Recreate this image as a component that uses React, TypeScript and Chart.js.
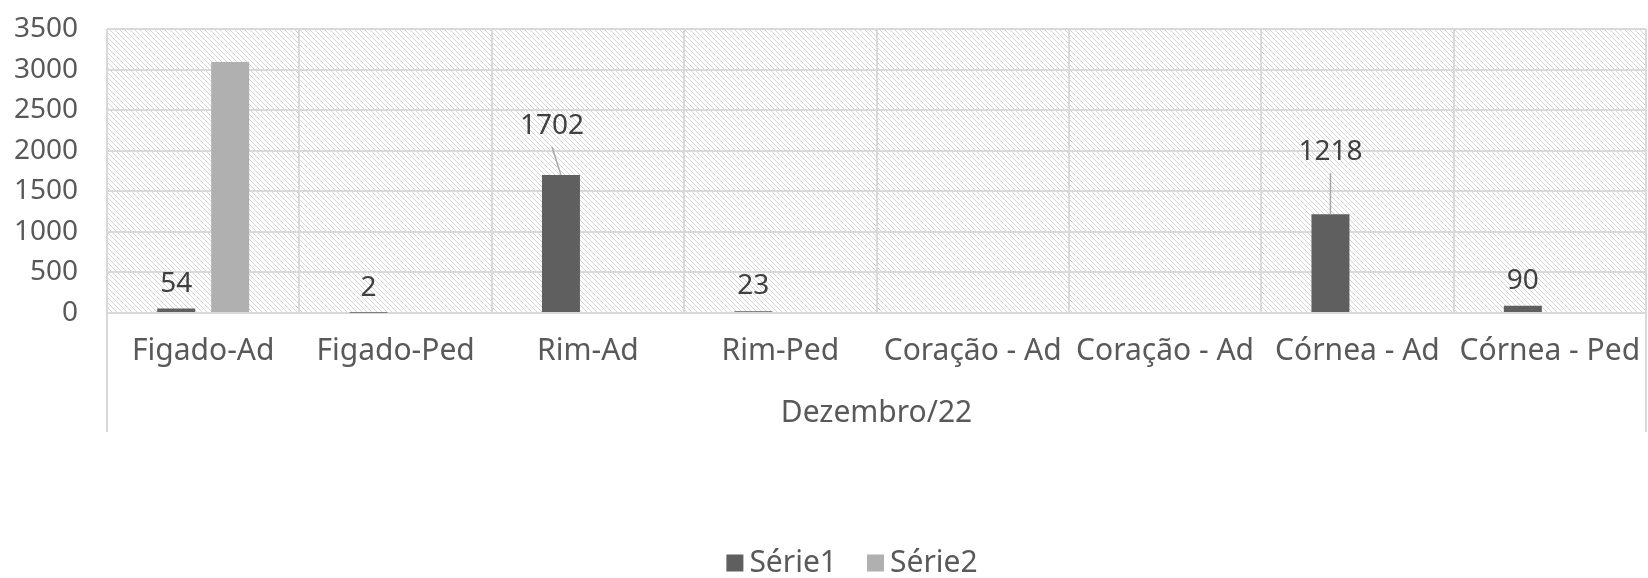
import React, { useEffect, useRef } from "react";
import { Chart, registerables } from "chart.js";

Chart.register(...registerables);

const categories = [
  "Figado-Ad",
  "Figado-Ped",
  "Rim-Ad",
  "Rim-Ped",
  "Coração - Ad",
  "Coração - Ad",
  "Córnea - Ad",
  "Córnea - Ped",
];
const serie1: (number | null)[] = [54, 2, 1702, 23, null, null, 1218, 90];
const serie2: (number | null)[] = [3093, null, null, null, null, null, null, null];
const seriesNames = ["Série1", "Série2"];
const groupLabel = "Dezembro/22";
const yMin = 0;
const yMax = 3500;
const yStep = 500;

const FONT = "'Noto Sans', sans-serif";
const TEXT = "#595959";
const COLORS = ["#5f5f5f", "#b0b0b0"];
const GRID = "#d9d9d9";

// manual label displacement (px) for labels moved with leader lines
const labelShift: Record<number, [number, number]> = { 2: [-9, -24], 6: [0, -37] };

const decor = {
  id: "decor",
  beforeDraw(chart: any) {
    const { ctx, chartArea: a } = chart;
    const tile = document.createElement("canvas");
    tile.width = 5;
    tile.height = 5;
    const t = tile.getContext("2d")!;
    t.fillStyle = "#ffffff";
    t.fillRect(0, 0, 5, 5);
    t.fillStyle = "#d4d4d4";
    for (let i = 0; i < 5; i++) t.fillRect(i, i, 1, 1);
    ctx.save();
    ctx.fillStyle = ctx.createPattern(tile, "repeat");
    ctx.fillRect(a.left, a.top, a.right - a.left, a.bottom - a.top);
    ctx.restore();
  },
  afterDatasetsDraw(chart: any) {
    const { ctx, chartArea: a } = chart;
    const meta = chart.getDatasetMeta(0);
    ctx.save();
    ctx.font = `28px ${FONT}`;
    ctx.textAlign = "center";
    ctx.textBaseline = "middle";
    serie1.forEach((v, i) => {
      if (v == null) return;
      const el = meta.data[i];
      const shift = labelShift[i] || [0, 0];
      const lx = el.x + shift[0];
      const ly = el.y - 25 + shift[1];
      if (labelShift[i]) {
        ctx.strokeStyle = "#a6a6a6";
        ctx.lineWidth = 1.5;
        ctx.beginPath();
        ctx.moveTo(el.x, el.y);
        ctx.lineTo(lx, ly + 21);
        ctx.stroke();
      }
      ctx.fillStyle = "#404040";
      ctx.fillText(String(v), lx, ly);
    });

    // group separators
    ctx.strokeStyle = GRID;
    ctx.lineWidth = 2;
    ctx.beginPath();
    ctx.moveTo(a.left, a.bottom);
    ctx.lineTo(a.left, 432);
    ctx.moveTo(a.right, a.bottom);
    ctx.lineTo(a.right, 432);
    ctx.stroke();

    // group label
    ctx.font = `30px ${FONT}`;
    ctx.fillStyle = TEXT;
    ctx.fillText(groupLabel, (a.left + a.right) / 2, 413);

    // legend
    ctx.textAlign = "left";
    const box = 17;
    const gapBoxText = 6;
    const gapItems = 30;
    const widths = seriesNames.map((n) => box + gapBoxText + ctx.measureText(n).width);
    const total = widths.reduce((s, w) => s + w, 0) + gapItems * (seriesNames.length - 1);
    let x = 852 - total / 2;
    const cy = 563;
    seriesNames.forEach((n, i) => {
      ctx.fillStyle = COLORS[i];
      ctx.fillRect(x, cy - box / 2, box, box);
      ctx.fillStyle = TEXT;
      ctx.fillText(n, x + box + gapBoxText, cy);
      x += widths[i] + gapItems;
    });
    ctx.restore();
  },
};

export default function App() {
  const ref = useRef<HTMLCanvasElement>(null);
  useEffect(() => {
    if (!ref.current) return;
    Chart.defaults.font.family = FONT;
    const chart = new Chart(ref.current, {
      type: "bar",
      data: {
        labels: categories,
        datasets: [
          {
            label: seriesNames[0],
            data: serie1,
            backgroundColor: COLORS[0],
            categoryPercentage: 0.561,
            barPercentage: 0.704,
          },
          {
            label: seriesNames[1],
            data: serie2,
            backgroundColor: COLORS[1],
            categoryPercentage: 0.561,
            barPercentage: 0.704,
          },
        ],
      },
      options: {
        animation: false,
        responsive: false,
        devicePixelRatio: 1,
        layout: { padding: { left: 0, right: 2, top: 29, bottom: 0 } },
        plugins: { legend: { display: false }, tooltip: { enabled: false } },
        scales: {
          x: {
            grid: { color: GRID, lineWidth: 2, drawTicks: false, offset: true },
            border: { color: GRID, width: 2 },
            ticks: {
              font: { size: 30, family: FONT },
              color: TEXT,
              padding: 20,
              maxRotation: 0,
              autoSkip: false,
            },
            afterFit: (s: any) => {
              s.height = 265;
              s.paddingLeft = 0;
              s.paddingRight = 0;
            },
          },
          y: {
            min: yMin,
            max: yMax,
            grid: { color: GRID, lineWidth: 2, drawTicks: false },
            border: { display: false },
            ticks: {
              stepSize: yStep,
              font: { size: 28, family: FONT },
              color: TEXT,
              padding: 29,
              callback: (v: any) => String(v),
            },
            afterFit: (s: any) => {
              s.width = 107;
              s.paddingTop = 0;
              s.paddingBottom = 0;
            },
          },
        },
      },
      plugins: [decor],
    });
    return () => chart.destroy();
  }, []);
  return (
    <div style={{ position: "absolute", left: 0, top: 0, width: 1648, height: 578, background: "#fff" }}>
      <canvas ref={ref} width={1648} height={578} style={{ display: "block" }} />
    </div>
  );
}
